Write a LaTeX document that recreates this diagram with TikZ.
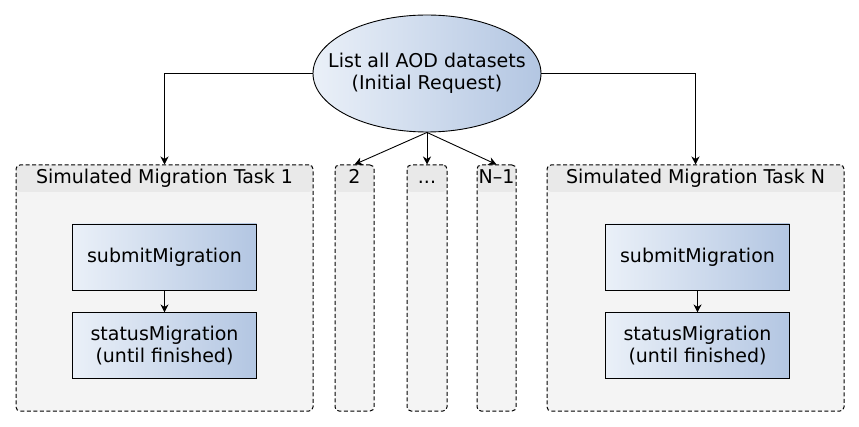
\documentclass[tikz,border=0pt]{standalone}
\usepackage{fontspec}
\setmainfont{DejaVu Sans}
\usetikzlibrary{shapes.geometric,arrows.meta,positioning}
\definecolor{lightblue}{HTML}{EAF0F8}
\definecolor{darkblue}{HTML}{B3C6E2}
\definecolor{lanegray}{HTML}{F4F4F4}
\definecolor{headgray}{HTML}{E9E9E9}

\begin{document}
\begin{tikzpicture}[x=1pt,y=-1pt,
		every node/.style={font=\fontsize{19}{22}\selectfont, align=center, inner sep=0pt},
		req/.style={ellipse, draw, line width=0.9pt, left color=lightblue, right color=darkblue, inner xsep=-20pt, minimum width=228pt, minimum height=117pt},
		lane/.style={draw, line width=1pt, dash pattern=on 4pt off 2.5pt, rounded corners=4pt, fill=lanegray, minimum height=246pt,
			path picture={\fill[headgray] (path picture bounding box.north west) rectangle ([yshift=-27pt]path picture bounding box.north east);}},
		lanehead/.style={anchor=north, minimum height=27pt, text height=15pt, text depth=4pt},
		callbox/.style={draw, line width=0.9pt, left color=lightblue, right color=darkblue, minimum width=184pt, minimum height=66pt},
		flow/.style={-{Stealth[length=8pt,width=8pt,inset=2.5pt]}, line width=0.9pt}]
			\useasboundingbox (0,0) rectangle (859,427);

			\node[req] (req) at (427,73.5) {List all AOD datasets\\(Initial Request)};

			% lanes
			\node[lane, minimum width=297pt] (task1) at (164.5,288) {};
			\node[lane, minimum width=39pt] (col2) at (354.5,288) {};
			\node[lane, minimum width=40pt] (colD) at (427,288) {};
			\node[lane, minimum width=39pt] (colN) at (496.5,288) {};
			\node[lane, minimum width=297pt] (taskN) at (695.5,288) {};

			\node[lanehead] (head1) at (task1.north) {Simulated Migration Task 1};
			\node[lanehead] (head2) at (col2.north) {2};
			\node[lanehead] (headD) at (colD.north) {...};
			\node[lanehead] (headN1) at (colN.north) {N–1};
			\node[lanehead] (headN) at (taskN.north) {Simulated Migration Task N};

			\node[callbox] (sub1) at (164.5,257) {submitMigration};
			\node[callbox, below=22pt of sub1] (stat1) {statusMigration\\(until finished)};
			\node[callbox] (subN) at (697.5,257) {submitMigration};
			\node[callbox, below=22pt of subN] (statN) {statusMigration\\(until finished)};

			\draw[flow] (req.west) -| (task1.north);
			\draw[flow] (req.east) -| (taskN.north);
			\foreach \c in {col2,colD,colN}
				\draw[flow] (req.south) -- (\c.north);
			\draw[flow] (sub1) -- (stat1);
			\draw[flow] (subN) -- (statN);
		\end{tikzpicture}
\end{document}
